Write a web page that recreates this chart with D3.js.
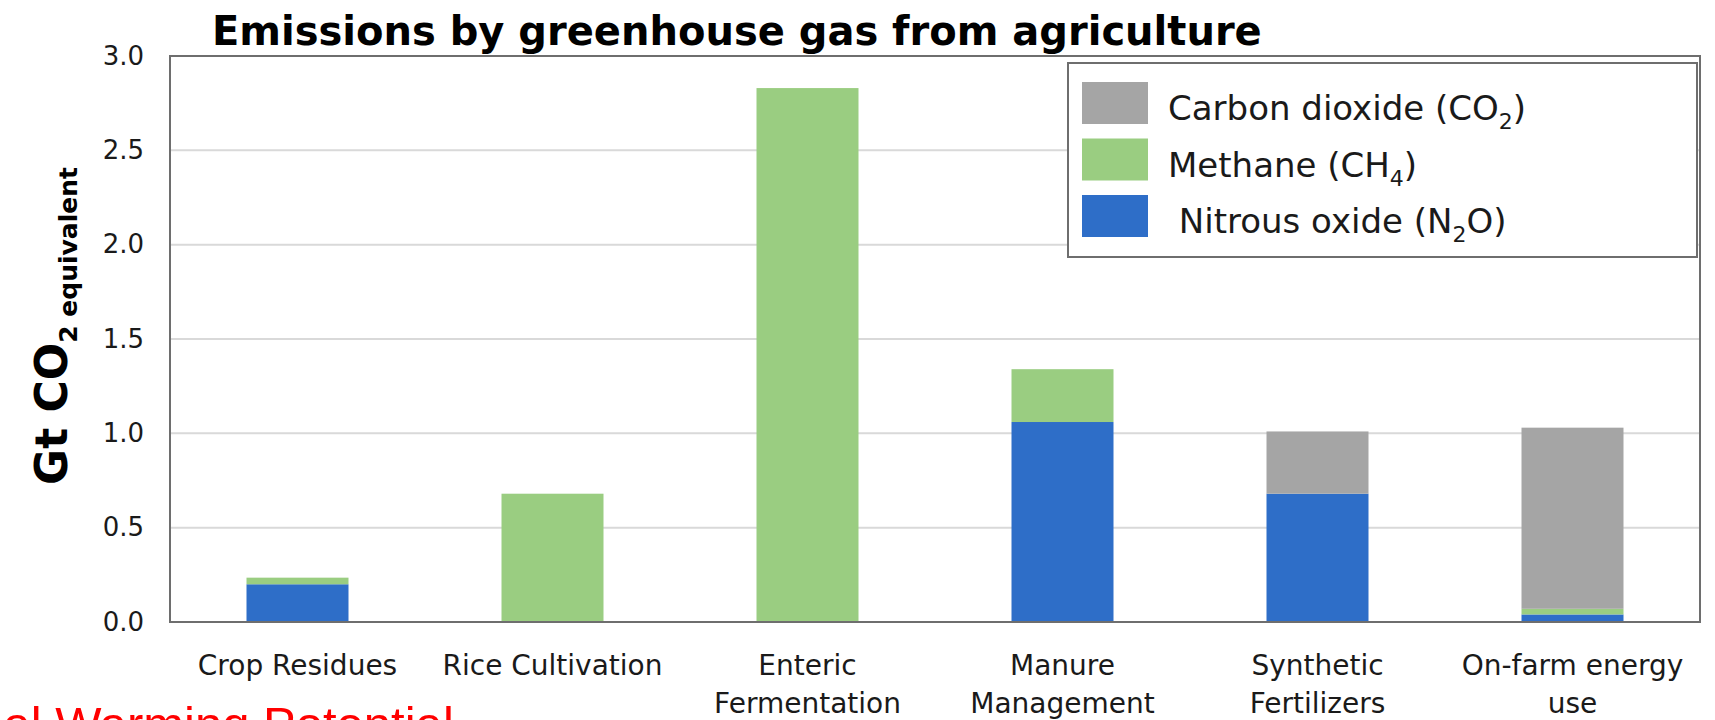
<!DOCTYPE html>
<html>
<head>
<meta charset="utf-8">
<script src="https://cdn.jsdelivr.net/npm/d3@7"></script>
<style>
  html, body { margin: 0; padding: 0; background: #fff; }
  svg { display: block; }
  text { font-family: "DejaVu Sans", sans-serif; fill: #1a1a1a; }
  text.caption { font-family: "Liberation Sans", Arial, sans-serif; fill: #ff0000; }
</style>
</head>
<body>
<svg id="chart" width="1715" height="720"></svg>
<script>
// Emissions by source and gas (Gt CO2 equivalent)
const categories = ["Crop Residues", "Rice Cultivation", "Enteric Fermentation",
                    "Manure Management", "Synthetic Fertilizers", "On-farm energy use"];
const categoryLines = [["Crop Residues"], ["Rice Cultivation"], ["Enteric", "Fermentation"],
                       ["Manure", "Management"], ["Synthetic", "Fertilizers"], ["On-farm energy", "use"]];
const n2oValues = [0.20, 0.00, 0.00, 1.06, 0.68, 0.04];
const ch4Values = [0.035, 0.68, 2.83, 0.28, 0.00, 0.03];
const co2Values = [0.00, 0.00, 0.00, 0.00, 0.33, 0.96];
const yTicks = [0, 0.5, 1.0, 1.5, 2.0, 2.5, 3.0];

const gases = [
  { key: "co2", color: "#a5a5a5", label: ["Carbon dioxide (CO", "2", ")"] },
  { key: "ch4", color: "#9acd81", label: ["Methane (CH", "4", ")"] },
  { key: "n2o", color: "#2e6ec8", label: [" Nitrous oxide (N", "2", "O)"] }
];

const rows = categories.map((c, i) => ({
  category: c, n2o: n2oValues[i], ch4: ch4Values[i], co2: co2Values[i]
}));

const svg = d3.select("#chart");
const plot = { left: 170, right: 1700, top: 56, bottom: 622 };

const x = d3.scaleBand().domain(categories)
  .range([plot.left, plot.right]).paddingInner(0.6).paddingOuter(0.3);
const y = d3.scaleLinear().domain([0, 3]).range([plot.bottom, plot.top]);
const color = d3.scaleOrdinal().domain(gases.map(g => g.key)).range(gases.map(g => g.color));

// gridlines
svg.append("g").selectAll("line").data(yTicks.filter(t => t > 0 && t < 3)).join("line")
  .attr("x1", plot.left).attr("x2", plot.right)
  .attr("y1", d => y(d)).attr("y2", d => y(d))
  .attr("stroke", "#d9d9d9").attr("stroke-width", 2);

// stacked bars, nitrous oxide at the bottom
const stack = d3.stack().keys(["n2o", "ch4", "co2"]);
const layers = stack(rows);
svg.append("g").selectAll("g").data(layers).join("g")
  .attr("fill", d => color(d.key))
  .selectAll("rect").data(d => d).join("rect")
  .attr("x", d => x(d.data.category))
  .attr("width", x.bandwidth())
  .attr("y", d => y(d[1]))
  .attr("height", d => y(d[0]) - y(d[1]));

// plot frame
svg.append("rect")
  .attr("x", plot.left).attr("y", y(3)).attr("width", plot.right - plot.left)
  .attr("height", y(0) - y(3))
  .attr("fill", "none").attr("stroke", "#6e6e6e").attr("stroke-width", 2);

// y axis tick labels
const yAxis = d3.axisLeft(y).tickValues(yTicks).tickFormat(d3.format(".1f"))
  .tickSize(0).tickPadding(26);
const yg = svg.append("g").attr("transform", `translate(${plot.left},0)`).call(yAxis);
yg.select(".domain").remove();
yg.selectAll("text").attr("font-size", 26).style("font-family", "'DejaVu Sans', sans-serif").style("fill", "#1a1a1a");

// x axis category labels
const xAxis = d3.axisBottom(x).tickSize(0).tickFormat("");
const xg = svg.append("g").attr("transform", `translate(0,${plot.bottom})`).call(xAxis);
xg.select(".domain").remove();
xg.selectAll(".tick").each(function(d, i) {
  const t = d3.select(this).append("text")
    .attr("text-anchor", "middle").attr("font-size", 28);
  categoryLines[i].forEach((line, j) => {
    t.append("tspan").attr("x", 0).attr("y", 53 + j * 38).text(line);
  });
});

// title
svg.append("text")
  .attr("x", 212).attr("y", 45)
  .attr("font-size", 40).attr("font-weight", 700).style("fill", "#000")
  .text("Emissions by greenhouse gas from agriculture");

// y axis title with subscript
const yt = svg.append("text")
  .attr("transform", "translate(67,326) rotate(-90)")
  .attr("text-anchor", "middle").attr("font-weight", 700).style("fill", "#000");
yt.append("tspan").attr("font-size", 44).text("Gt CO");
yt.append("tspan").attr("font-size", 25).attr("dy", 10).text("2 equivalent");

// legend
const legend = svg.append("g");
legend.append("rect")
  .attr("x", 1068).attr("y", 63).attr("width", 629).attr("height", 194)
  .attr("fill", "#fff").attr("stroke", "#6e6e6e").attr("stroke-width", 2);
const items = legend.selectAll("g.item").data(gases).join("g").attr("class", "item")
  .attr("transform", (d, i) => `translate(1082,${82 + i * 56.5})`);
items.append("rect").attr("width", 66).attr("height", 42).attr("fill", d => d.color);
const lt = items.append("text").attr("x", 86).attr("y", 38).attr("font-size", 34)
  .attr("xml:space", "preserve");
lt.append("tspan").text(d => d.label[0]);
lt.append("tspan").attr("font-size", 22).attr("dy", 9).text(d => d.label[1]);
lt.append("tspan").attr("dy", -9).text(d => d.label[2]);

// footnote caption
svg.append("text").attr("class", "caption")
  .attr("x", -100).attr("y", 741)
  .attr("font-size", 49)
  .text("Global Warming Potential");
</script>
</body>
</html>
